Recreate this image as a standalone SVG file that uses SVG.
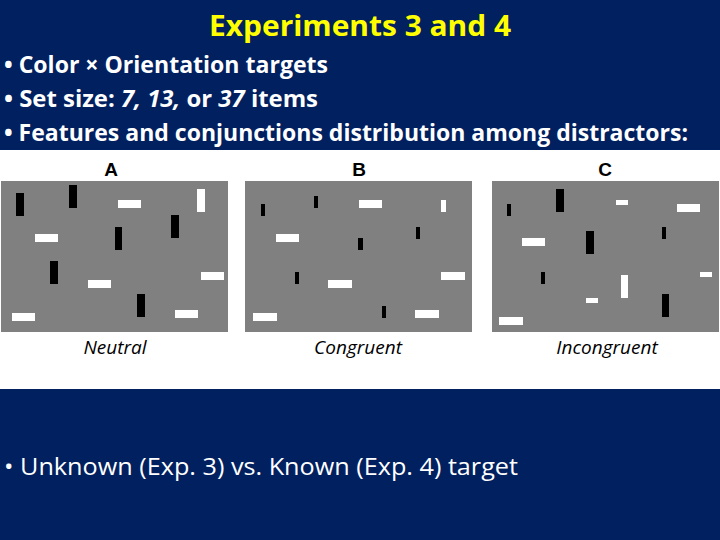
<svg xmlns="http://www.w3.org/2000/svg" width="720" height="540" viewBox="0 0 720 540">
<style>
.b{fill:#000}.w{fill:#fff}.p{fill:#808080}
.t{font-family:"Open Sans","Liberation Sans",sans-serif;fill:#fff;font-size:23px;font-weight:bold}
.l{font-family:"Open Sans","Liberation Sans",sans-serif;font-style:italic;font-size:19px;fill:#000;text-anchor:middle}
.h{font-family:"Liberation Sans",Arial,sans-serif;font-weight:bold;font-size:19px;fill:#000;text-anchor:middle}
</style>
<rect width="720" height="540" fill="#002060"/>
<text x="360" y="36" text-anchor="middle" font-family="Open Sans,Liberation Sans,sans-serif" font-weight="bold" font-size="28" fill="#ffff00" textLength="302" lengthAdjust="spacingAndGlyphs">Experiments 3 and 4</text>
<text class="t" x="4" y="73" textLength="324" lengthAdjust="spacingAndGlyphs">• Color × Orientation targets</text>
<text class="t" x="4" y="107" textLength="314" lengthAdjust="spacingAndGlyphs">• Set size: <tspan font-style="italic">7, 13,</tspan> or <tspan font-style="italic">37</tspan> items</text>
<text class="t" x="4" y="141" textLength="684" lengthAdjust="spacingAndGlyphs">• Features and conjunctions distribution among distractors:</text>
<rect x="0" y="150" width="720" height="239" fill="#fff"/>
<g id="panelA">
<text class="h" x="111" y="176">A</text>
<rect class="p" x="1" y="181" width="227" height="151"/>
<rect class="b" x="16" y="193" width="8" height="23"/><rect class="b" x="69" y="185" width="8" height="23"/>
<rect class="w" x="118" y="200" width="23" height="8"/><rect class="w" x="197" y="189" width="8" height="23"/>
<rect class="b" x="171" y="215" width="8" height="23"/><rect class="w" x="35" y="234" width="23" height="8"/>
<rect class="b" x="115" y="227" width="7" height="23"/><rect class="b" x="50" y="261" width="8" height="23"/>
<rect class="w" x="88" y="280" width="23" height="8"/><rect class="w" x="201" y="272" width="23" height="8"/>
<rect class="b" x="137" y="294" width="8" height="23"/><rect class="w" x="12" y="313" width="23" height="8"/>
<rect class="w" x="175" y="310" width="23" height="8"/>
<text class="l" x="115" y="354">Neutral</text>
</g>
<g id="panelB">
<text class="h" x="359" y="176">B</text>
<rect class="p" x="245" y="181" width="227" height="151"/>
<rect class="b" x="261" y="204" width="4" height="12"/><rect class="b" x="314" y="196" width="4" height="12"/>
<rect class="w" x="276" y="234" width="23" height="8"/><rect class="w" x="359" y="200" width="23" height="8"/>
<rect class="w" x="441" y="200" width="5" height="12"/><rect class="b" x="358" y="238" width="5" height="12"/>
<rect class="b" x="416" y="227" width="4" height="12"/><rect class="b" x="295" y="272" width="4" height="12"/>
<rect class="w" x="328" y="280" width="24" height="8"/><rect class="w" x="441" y="272" width="24" height="8"/>
<rect class="b" x="382" y="306" width="4" height="12"/><rect class="w" x="415" y="310" width="24" height="8"/>
<rect class="w" x="253" y="313" width="24" height="8"/>
<text class="l" x="358" y="354">Congruent</text>
</g>
<g id="panelC">
<text class="h" x="605" y="176">C</text>
<rect class="p" x="492" y="181" width="227" height="151"/>
<rect class="b" x="507" y="204" width="4" height="12"/><rect class="b" x="556" y="189" width="8" height="23"/>
<rect class="w" x="616" y="200" width="12" height="5"/><rect class="w" x="677" y="204" width="23" height="8"/>
<rect class="w" x="522" y="238" width="23" height="8"/><rect class="b" x="586" y="231" width="8" height="23"/>
<rect class="b" x="662" y="227" width="4" height="12"/><rect class="b" x="541" y="272" width="4" height="12"/>
<rect class="w" x="621" y="275" width="7" height="23"/><rect class="w" x="700" y="272" width="12" height="5"/>
<rect class="w" x="586" y="298" width="12" height="5"/><rect class="b" x="662" y="294" width="7" height="23"/>
<rect class="w" x="499" y="317" width="24" height="8"/>
<text class="l" x="607" y="354">Incongruent</text>
</g>
<text class="t" x="4" y="475" font-weight="normal" style="font-weight:normal" textLength="514" lengthAdjust="spacingAndGlyphs">• Unknown (Exp. 3) vs. Known (Exp. 4) target</text>
</svg>
